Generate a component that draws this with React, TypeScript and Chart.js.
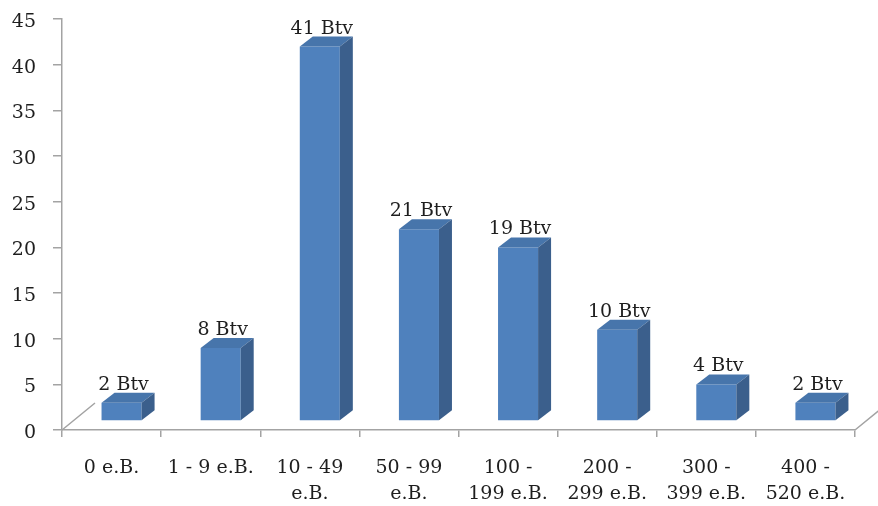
import React, { useEffect, useRef } from "react";
import { Chart, registerables } from "chart.js";

Chart.register(...registerables);

const categories: string[][] = [
  ["0 e.B."],
  ["1 - 9 e.B."],
  ["10 - 49", "e.B."],
  ["50 - 99", "e.B."],
  ["100 -", "199 e.B."],
  ["200 -", "299 e.B."],
  ["300 -", "399 e.B."],
  ["400 -", "520 e.B."],
];
const values: number[] = [2, 8, 41, 21, 19, 10, 4, 2];
const valueSuffix = " Btv";
const yTicks = { min: 0, max: 45, step: 5 };

const FONT = "'DejaVu Serif', serif";
const FONT_SIZE = 19;
const FRONT = "#4f81bd";
const TOP = "#4775ab";
const SIDE = "#3b5f8c";
const AXIS = "#a3a3a3";
const TEXT = "#1e1e1e";

// 3D styling (offsets in px)
const SHIFT_X = 10;
const SHIFT_Y = -9;
const DEPTH_X = 13;
const DEPTH_Y = -10;
const FLOOR_X = 33;
const FLOOR_Y = -27;

const bar3dPlugin = {
  id: "bar3d",
  beforeDatasetsDraw(chart: any) {
    chart.ctx.save();
    chart.ctx.translate(SHIFT_X, SHIFT_Y);
  },
  afterDatasetsDraw(chart: any) {
    const ctx = chart.ctx;
    const meta = chart.getDatasetMeta(0);
    meta.data.forEach((el: any) => {
      const { x, y, base, width } = el.getProps(["x", "y", "base", "width"], true);
      const l = x - width / 2;
      const r = x + width / 2;
      ctx.fillStyle = TOP;
      ctx.beginPath();
      ctx.moveTo(l, y);
      ctx.lineTo(r, y);
      ctx.lineTo(r + DEPTH_X, y + DEPTH_Y);
      ctx.lineTo(l + DEPTH_X, y + DEPTH_Y);
      ctx.closePath();
      ctx.fill();
      ctx.fillStyle = SIDE;
      ctx.beginPath();
      ctx.moveTo(r, y);
      ctx.lineTo(r + DEPTH_X, y + DEPTH_Y);
      ctx.lineTo(r + DEPTH_X, base + DEPTH_Y);
      ctx.lineTo(r, base);
      ctx.closePath();
      ctx.fill();
    });
    ctx.fillStyle = TEXT;
    ctx.font = `${FONT_SIZE}px ${FONT}`;
    ctx.textAlign = "center";
    ctx.textBaseline = "alphabetic";
    meta.data.forEach((el: any, i: number) => {
      const { x, y } = el.getProps(["x", "y"], true);
      ctx.fillText(`${values[i]}${valueSuffix}`, x + 2, y + DEPTH_Y - 3);
    });
    ctx.restore();

    const a = chart.chartArea;
    ctx.save();
    ctx.strokeStyle = AXIS;
    ctx.lineWidth = 1.5;
    ctx.beginPath();
    ctx.moveTo(a.left, a.bottom);
    ctx.lineTo(a.left + FLOOR_X, a.bottom + FLOOR_Y);
    ctx.moveTo(a.right, a.bottom);
    ctx.lineTo(a.right + FLOOR_X, a.bottom + FLOOR_Y);
    ctx.stroke();
    ctx.restore();
  },
};

export default function App() {
  const ref = useRef<HTMLCanvasElement | null>(null);
  useEffect(() => {
    if (!ref.current) return;
    const chart = new Chart(ref.current, {
      type: "bar",
      data: {
        labels: categories,
        datasets: [
          {
            data: values,
            backgroundColor: FRONT,
            borderWidth: 0,
            categoryPercentage: 1,
            barPercentage: 0.404,
          },
        ],
      },
      options: {
        responsive: false,
        animation: false,
        events: [],
        layout: { padding: { top: 19, right: 23, left: 0, bottom: 0 } },
        plugins: {
          legend: { display: false },
          tooltip: { enabled: false },
        },
        scales: {
          x: {
            grid: {
              offset: true,
              drawOnChartArea: false,
              tickLength: 7,
              color: AXIS,
              lineWidth: 1.5,
            },
            border: { color: AXIS, width: 1.5 },
            ticks: {
              color: TEXT,
              font: { family: FONT, size: FONT_SIZE, lineHeight: 1.37 },
              padding: 18,
              maxRotation: 0,
              autoSkip: false,
            },
            afterFit(scale: any) {
              scale.height = 76;
              scale.paddingLeft = 0;
              scale.paddingRight = 0;
            },
          },
          y: {
            min: yTicks.min,
            max: yTicks.max,
            grid: {
              drawOnChartArea: false,
              tickLength: 9,
              color: AXIS,
              lineWidth: 1.5,
            },
            border: { color: AXIS, width: 1.5 },
            ticks: {
              stepSize: yTicks.step,
              color: TEXT,
              font: { family: FONT, size: FONT_SIZE },
              padding: 17,
              labelOffset: 3,
            },
            afterFit(scale: any) {
              scale.width = 62;
              scale.paddingTop = 0;
              scale.paddingBottom = 0;
            },
          },
        },
      },
      plugins: [bar3dPlugin],
    });
    return () => chart.destroy();
  }, []);
  return (
    <div style={{ position: "absolute", left: 0, top: 0, width: 878, height: 506, background: "#fff" }}>
      <canvas ref={ref} width={878} height={506} style={{ width: 878, height: 506 }} />
    </div>
  );
}
